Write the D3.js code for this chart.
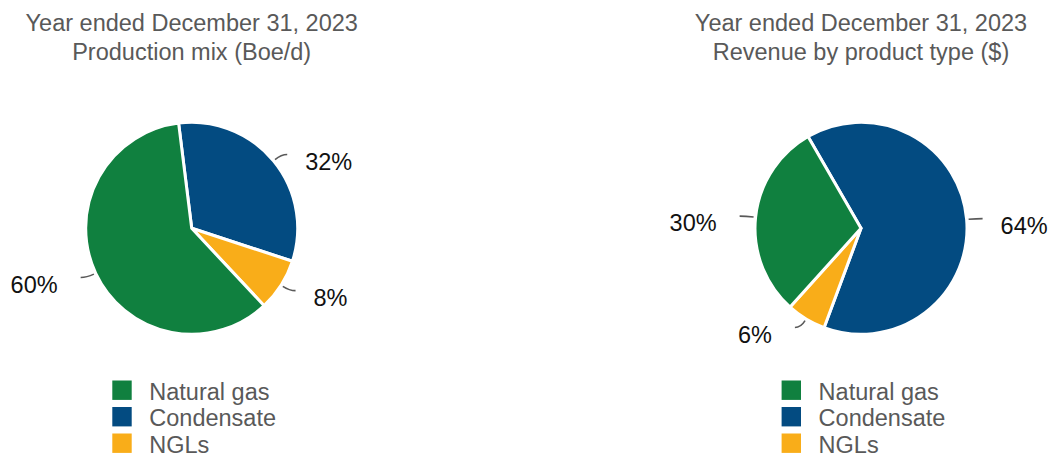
<!DOCTYPE html>
<html>
<head>
<meta charset="utf-8">
<script src="https://cdn.jsdelivr.net/npm/d3@7/dist/d3.min.js"></script>
<style>
  body { margin: 0; background: #fff; }
  svg { display: block; font-family: "Liberation Sans", Arial, sans-serif; }
</style>
</head>
<body>
<div id="chart"></div>
<script>
// legend order
var categories = ["Natural gas", "Condensate", "NGLs"];
// values in percent, same order as categories
var productionMix = [60, 32, 8];
var revenueMix = [30, 64, 6];
// slices are drawn clockwise in this order
var sliceOrder = ["Condensate", "NGLs", "Natural gas"];
var titles = [
    ["Year ended December 31, 2023", "Production mix (Boe/d)"],
    ["Year ended December 31, 2023", "Revenue by product type ($)"]
];

var colors = { "Natural gas": "#10803f", "Condensate": "#034b81", "NGLs": "#f9ad19" };

var width = 1051, height = 458;
var svg = d3.select("#chart")
    .append("svg")
    .attr("width", width)
    .attr("height", height);

function drawPie(values, title, cx, startDeg) {
    var cy = 228.3, radius = 106;
    var data = sliceOrder.map(function (name) {
        return { name: name, value: values[categories.indexOf(name)] };
    });

    var g = svg.append("g").attr("transform", "translate(" + cx + "," + cy + ")");

    // title
    g.selectAll(".title")
        .data(title)
        .enter().append("text")
        .attr("class", "title")
        .attr("x", 0)
        .attr("y", function (d, i) { return -cy + 31 + i * 29; })
        .attr("text-anchor", "middle")
        .style("font-size", "23.5px")
        .style("fill", "#595959")
        .text(function (d) { return d; });

    var start = startDeg * Math.PI / 180;
    var pie = d3.pie()
        .sort(null)
        .value(function (d) { return d.value; })
        .startAngle(start)
        .endAngle(start + 2 * Math.PI);

    var arc = d3.arc().innerRadius(0).outerRadius(radius);
    var arcs = pie(data);

    g.selectAll(".slice")
        .data(arcs)
        .enter().append("path")
        .attr("class", "slice")
        .attr("d", arc)
        .style("fill", function (d) { return colors[d.data.name]; })
        .style("stroke", "#fff")
        .style("stroke-width", 3)
        .style("stroke-linejoin", "round");

    // point at the slice middle angle, given radius
    function at(d, r) {
        return d3.arc().innerRadius(r).outerRadius(r).centroid(d);
    }

    arcs.forEach(function (d) {
        var p0 = at(d, 108), p1 = at(d, 116);
        var side = p1[0] >= 0 ? 1 : -1;
        var end = [p1[0] + 6 * side, p1[1]];

        g.append("path")
            .attr("d", "M" + p0 + "Q" + p1 + " " + end)
            .style("fill", "none")
            .style("stroke", "#595959")
            .style("stroke-width", 1.6);

        g.append("text")
            .attr("x", end[0] + (side > 0 ? 18 : -23))
            .attr("y", end[1] + 15)
            .attr("text-anchor", side > 0 ? "start" : "end")
            .style("font-size", "23.5px")
            .style("fill", "#111")
            .text(d.data.value + "%");
    });

    // legend
    var legend = g.selectAll(".legend")
        .data(categories)
        .enter().append("g")
        .attr("class", "legend")
        .attr("transform", function (d, i) { return "translate(" + (-79.4) + "," + (380.5 - cy + i * 26.5) + ")"; });

    legend.append("rect")
        .attr("width", 19.4)
        .attr("height", 19.4)
        .style("fill", function (d) { return colors[d]; });

    legend.append("text")
        .attr("x", 37)
        .attr("y", 19)
        .style("font-size", "23.5px")
        .style("fill", "#595959")
        .text(function (d) { return d; });
}

drawPie(productionMix, titles[0], 191.7, -7.1);
drawPie(revenueMix, titles[1], 861, -30);
</script>
</body>
</html>
